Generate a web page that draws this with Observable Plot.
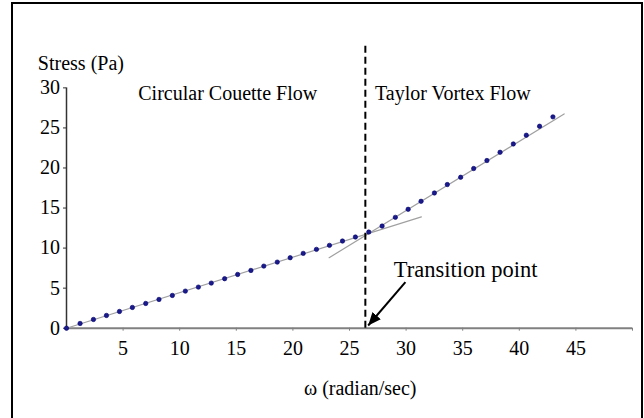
<!DOCTYPE html>
<html>
<head>
<meta charset="utf-8">
<script src="https://cdn.jsdelivr.net/npm/d3@7"></script>
<script src="https://cdn.jsdelivr.net/npm/@observablehq/plot@0.6"></script>
<style>
  html, body { margin: 0; padding: 0; background: #fff; }
  #wrap { position: relative; width: 644px; height: 418px; overflow: hidden; }
  #box { position: absolute; left: 11px; top: 2px; width: 632px; height: 430px; border: 2px solid #000; box-sizing: border-box; }
  #chart { position: absolute; left: 0; top: 0; }
</style>
</head>
<body>
<div id="wrap"><div id="box"></div><div id="chart"></div></div>
<script>
const omega = [0, 1.20, 2.38, 3.53, 4.68, 5.82, 7.00, 8.17, 9.35, 10.50, 11.65, 12.79, 13.97, 15.12, 16.29, 17.43, 18.62, 19.76, 20.91, 22.08, 23.23, 24.38, 25.52, 26.70, 27.88, 29.05, 30.18, 31.32, 32.50, 33.64, 34.82, 35.97, 37.14, 38.30, 39.47, 40.62, 41.79, 42.97];
const stress = [0, 0.59, 1.09, 1.59, 2.09, 2.59, 3.09, 3.59, 4.09, 4.63, 5.13, 5.63, 6.18, 6.71, 7.21, 7.75, 8.25, 8.80, 9.34, 9.84, 10.34, 10.88, 11.38, 12.00, 12.75, 13.84, 14.84, 15.84, 16.88, 17.93, 18.84, 19.93, 20.93, 21.96, 23.00, 24.09, 25.21, 26.38];

// Fitted lines (end points)
const fitCouette = [{x: 0, y: 0}, {x: 31.35, y: 13.9}];
const fitTaylor = [{x: 23.2, y: 8.8}, {x: 43.96, y: 26.75}];

// Transition
const transitionOmega = 26.4;
const transitionTop = 35.7;
const arrow = [{x1: 29.94, y1: 5.74, x2: 26.65, y2: 0.34}];

// Tick values
const xTicks = [5, 10, 15, 20, 25, 30, 35, 40, 45, 50];
const yTicks = [0, 5, 10, 15, 20, 25, 30];

// Annotation texts
const labels = [
  {x: -2.53, y: 32.17, text: "Stress (Pa)", size: 20, anchor: "start"},
  {x: 6.34, y: 28.5, text: "Circular Couette Flow", size: 20, anchor: "start"},
  {x: 27.25, y: 28.5, text: "Taylor Vortex Flow", size: 20, anchor: "start"},
  {x: 28.92, y: 6.33, text: "Transition point", size: 22.5, anchor: "start"},
  {x: 25.95, y: -8.4, text: "ω (radian/sec)", size: 20, anchor: "middle"}
];

const points = omega.map((w, i) => ({w, s: stress[i]}));
const serif = "Liberation Serif";

function headMarker(color, context) {
  const ns = "http://www.w3.org/2000/svg";
  const m = context.document.createElementNS(ns, "marker");
  m.setAttribute("viewBox", "-13 -5.5 13 11");
  m.setAttribute("markerWidth", "13");
  m.setAttribute("markerHeight", "11");
  m.setAttribute("markerUnits", "userSpaceOnUse");
  m.setAttribute("refX", "0");
  m.setAttribute("refY", "0");
  m.setAttribute("orient", "auto");
  const p = context.document.createElementNS(ns, "path");
  p.setAttribute("d", "M-13,-5.5L0,0L-13,5.5Z");
  p.setAttribute("fill", color);
  p.setAttribute("stroke", "none");
  m.appendChild(p);
  return m;
}

const chart = Plot.plot({
  width: 644,
  height: 418,
  marginLeft: 66,
  marginRight: 12,
  marginTop: 39.3,
  marginBottom: 90.3,
  style: {fontFamily: serif, fontSize: "20px", color: "#000", background: "transparent"},
  x: {domain: [0, 50]},
  y: {domain: [0, 36]},
  marks: [
    Plot.axisX(xTicks, {tickSize: 3, tickPadding: 10, tickFormat: d => d === 50 ? "" : String(d), stroke: "#808080", fontSize: 20, fontFamily: serif, label: null}),
    Plot.axisY(yTicks, {tickSize: 3, tickPadding: 3.5, stroke: "#333", fontSize: 20, fontFamily: serif, label: null}),
    Plot.ruleY([0], {x1: 0, x2: 50, stroke: "#808080", strokeWidth: 2}),
    Plot.ruleX([0], {y1: 0, y2: 30, stroke: "#333", strokeWidth: 1.5}),
    Plot.line(fitCouette, {x: "x", y: "y", stroke: "#a0a0a0", strokeWidth: 1.2}),
    Plot.line(fitTaylor, {x: "x", y: "y", stroke: "#a0a0a0", strokeWidth: 1.2}),
    Plot.ruleX([transitionOmega], {y1: 0, y2: transitionTop, stroke: "#000", strokeWidth: 2, strokeDasharray: "7,4"}),
    Plot.dot(points, {x: "w", y: "s", r: 2.2, fill: "#1a1a8c", stroke: "#00006e", strokeWidth: 0.6}),
    Plot.link(arrow, {x1: "x1", y1: "y1", x2: "x2", y2: "y2", stroke: "#000", strokeWidth: 2, markerEnd: headMarker}),
    Plot.text(labels, {x: "x", y: "y", text: "text", fontSize: d => d.size, fontFamily: serif, textAnchor: "start", lineAnchor: "bottom", fill: "#000", filter: d => d.anchor === "start"}),
    Plot.text(labels, {x: "x", y: "y", text: "text", fontSize: 20, fontFamily: serif, textAnchor: "middle", lineAnchor: "bottom", fill: "#000", filter: d => d.anchor === "middle"})
  ]
});
document.getElementById("chart").appendChild(chart);
</script>
</body>
</html>
